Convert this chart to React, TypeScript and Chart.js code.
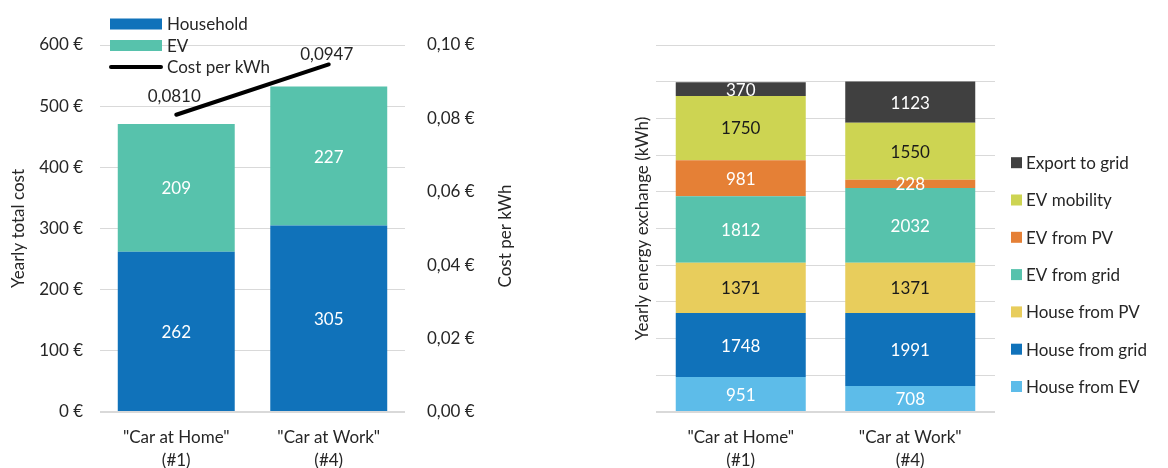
import React, { useEffect, useRef } from 'react';
import { Chart, registerables } from 'chart.js';
Chart.register(...registerables);

const FONT = 'Lato, "Noto Sans", sans-serif';

// ---- Left chart data ----
const costCategories = [['"Car at Home"', '(#1)'], ['"Car at Work"', '(#4)']];
const householdCost = [262, 305];
const evCost = [209, 227];
const costPerKwh = [0.081, 0.0947];
const costLegend = ['Household', 'EV', 'Cost per kWh'];

// ---- Right chart data ----
const energyCategories = [['"Car at Home"', '(#1)'], ['"Car at Work"', '(#4)']];
const houseFromEV = [951, 708];
const houseFromGrid = [1748, 1991];
const houseFromPV = [1371, 1371];
const evFromGrid = [1812, 2032];
const evFromPV = [981, 228];
const evMobility = [1750, 1550];
const exportToGrid = [370, 1123];
const energySeriesNames = ['House from EV', 'House from grid', 'House from PV', 'EV from grid', 'EV from PV', 'EV mobility', 'Export to grid'];

const C_HOUSEHOLD = '#1072BA';
const C_EV = '#57C2AC';
const energyColors = ['#5DBCE9', '#1072BA', '#E8CD5C', '#57C2AC', '#E58036', '#CDD452', '#404040'];
const energyLabelColors = ['#FFFFFF', '#FFFFFF', '#1A1A1A', '#FFFFFF', '#FFFFFF', '#1A1A1A', '#FFFFFF'];

const GRID = '#D9D9D9';
const TEXT = '#262626';

const barLabelsPlugin = {
  id: 'barLabels',
  afterDatasetsDraw(chart: any) {
    const ctx = chart.ctx;
    ctx.save();
    ctx.font = `17px ${FONT}`;
    ctx.textAlign = 'center';
    ctx.textBaseline = 'middle';
    chart.data.datasets.forEach((ds: any, i: number) => {
      const meta = chart.getDatasetMeta(i);
      if (meta.type === 'line') {
        meta.data.forEach((el: any, j: number) => {
          const v = ds.data[j];
          ctx.fillStyle = TEXT;
          ctx.fillText(v.toFixed(4).replace('.', ','), el.x - 2, el.y + ds.labelOffsets[j]);
        });
        return;
      }
      meta.data.forEach((el: any, j: number) => {
        const v = ds.data[j];
        const p = el.getProps(['x', 'y', 'base'], true);
        ctx.fillStyle = ds.labelColor;
        ctx.fillText(String(v), p.x, (p.y + p.base) / 2 + 1);
      });
    });
    ctx.restore();
  },
};

const leftExtrasPlugin = {
  id: 'leftExtras',
  afterDraw(chart: any) {
    const ctx = chart.ctx;
    ctx.save();
    ctx.font = `17px ${FONT}`;
    ctx.textBaseline = 'middle';
    ctx.textAlign = 'left';
    // legend
    const rows = [24, 45.5, 67];
    ctx.fillStyle = C_HOUSEHOLD;
    ctx.fillRect(110, rows[0] - 5.5, 52, 11);
    ctx.fillStyle = C_EV;
    ctx.fillRect(110, rows[1] - 5.5, 52, 11);
    ctx.strokeStyle = '#000';
    ctx.lineWidth = 4;
    ctx.lineCap = 'round';
    ctx.beginPath();
    ctx.moveTo(111, rows[2]);
    ctx.lineTo(161, rows[2]);
    ctx.stroke();
    ctx.fillStyle = TEXT;
    costLegend.forEach((t, i) => ctx.fillText(t, 167, rows[i] + 1));
    // right axis title (reads bottom-to-top)
    ctx.translate(506, 236);
    ctx.rotate(-Math.PI / 2);
    ctx.textAlign = 'center';
    ctx.fillText('Cost per kWh', 0, 0);
    ctx.restore();
  },
};

const rightLegendPlugin = {
  id: 'rightLegend',
  afterDraw(chart: any) {
    const ctx = chart.ctx;
    ctx.save();
    ctx.font = `17px ${FONT}`;
    ctx.textBaseline = 'middle';
    ctx.textAlign = 'left';
    const n = energySeriesNames.length;
    for (let k = 0; k < n; k++) {
      const idx = n - 1 - k;
      const y = 162.7 + k * 37.3;
      ctx.fillStyle = energyColors[idx];
      ctx.fillRect(451, y - 5.5, 11, 11);
      ctx.fillStyle = TEXT;
      ctx.fillText(energySeriesNames[idx], 466, y + 1);
    }
    ctx.restore();
  },
};

function LeftChart() {
  const ref = useRef<HTMLCanvasElement>(null);
  useEffect(() => {
    const chart = new Chart(ref.current as HTMLCanvasElement, {
      type: 'bar',
      data: {
        labels: costCategories as any,
        datasets: [
          {
            type: 'line' as any,
            label: 'Cost per kWh',
            data: costPerKwh,
            yAxisID: 'y1',
            borderColor: '#000',
            borderWidth: 4,
            borderCapStyle: 'round',
            pointRadius: 0,
            order: 0,
            labelOffsets: [-18.5, -9.5],
          } as any,
          {
            label: 'Household',
            data: householdCost,
            backgroundColor: C_HOUSEHOLD,
            yAxisID: 'y',
            order: 1,
            labelColor: '#FFFFFF',
          } as any,
          {
            label: 'EV',
            data: evCost,
            backgroundColor: C_EV,
            yAxisID: 'y',
            order: 1,
            labelColor: '#FFFFFF',
          } as any,
        ],
      },
      options: {
        animation: false,
        responsive: false,
        maintainAspectRatio: false,
        layout: { padding: { left: 0, right: 43, top: 45, bottom: 0 } },
        datasets: { bar: { categoryPercentage: 0.767, barPercentage: 1 } } as any,
        plugins: { legend: { display: false }, tooltip: { enabled: false } },
        scales: {
          x: {
            stacked: true,
            grid: { display: false, drawTicks: false },
            border: { display: false },
            ticks: { color: TEXT, font: { family: FONT, size: 17, lineHeight: 1.35 }, padding: 14, maxRotation: 0, autoSkip: false },
            afterFit: (s: any) => { s.height = 56; },
          },
          y: {
            stacked: true,
            position: 'left',
            min: 0,
            max: 600,
            ticks: { stepSize: 100, color: TEXT, font: { family: FONT, size: 17 }, padding: 17, callback: (v: any) => `${v} €` },
            grid: { color: GRID, drawTicks: false, lineWidth: (c: any) => (c.tick && c.tick.value === 0 ? 2 : 1) },
            border: { display: false },
            title: { display: true, text: 'Yearly total cost', color: TEXT, font: { family: FONT, size: 17 }, padding: { top: 8, bottom: 0 } },
            afterFit: (s: any) => { s.width = 100; },
          },
          y1: {
            position: 'right',
            min: 0,
            max: 0.1,
            ticks: { stepSize: 0.02, color: TEXT, font: { family: FONT, size: 17 }, padding: 22, callback: (v: any) => `${Number(v).toFixed(2).replace('.', ',')} €` },
            grid: { display: false, drawTicks: false },
            border: { display: false },
            afterFit: (s: any) => { s.width = 112; },
          },
        },
      } as any,
      plugins: [barLabelsPlugin, leftExtrasPlugin],
    });
    return () => chart.destroy();
  }, []);
  return <canvas ref={ref} width={560} height={468} style={{ position: 'absolute', left: 0, top: 0, width: 560, height: 468 }} />;
}

function RightChart() {
  const ref = useRef<HTMLCanvasElement>(null);
  useEffect(() => {
    const series = [houseFromEV, houseFromGrid, houseFromPV, evFromGrid, evFromPV, evMobility, exportToGrid];
    const chart = new Chart(ref.current as HTMLCanvasElement, {
      type: 'bar',
      data: {
        labels: energyCategories as any,
        datasets: series.map((d, i) => ({
          label: energySeriesNames[i],
          data: d,
          backgroundColor: energyColors[i],
          labelColor: energyLabelColors[i],
        })) as any,
      },
      options: {
        animation: false,
        responsive: false,
        maintainAspectRatio: false,
        layout: { padding: { left: 0, right: 173, top: 45, bottom: 0 } },
        datasets: { bar: { categoryPercentage: 0.767, barPercentage: 1 } } as any,
        plugins: { legend: { display: false }, tooltip: { enabled: false } },
        scales: {
          x: {
            stacked: true,
            grid: { display: false, drawTicks: false },
            border: { display: false },
            ticks: { color: TEXT, font: { family: FONT, size: 17, lineHeight: 1.35 }, padding: 14, maxRotation: 0, autoSkip: false },
            afterFit: (s: any) => { s.height = 56; },
          },
          y: {
            stacked: true,
            min: 0,
            max: 10000,
            ticks: { display: false, stepSize: 1000 },
            grid: { color: GRID, drawTicks: false, lineWidth: (c: any) => (c.tick && c.tick.value === 0 ? 2 : 1) },
            border: { display: false },
            title: { display: true, text: 'Yearly energy exchange (kWh)', color: TEXT, font: { family: FONT, size: 17 }, padding: { top: 72, bottom: 0 } },
            afterFit: (s: any) => { s.width = 96; },
          },
        },
      } as any,
      plugins: [barLabelsPlugin, rightLegendPlugin],
    });
    return () => chart.destroy();
  }, []);
  return <canvas ref={ref} width={608} height={468} style={{ position: 'absolute', left: 560, top: 0, width: 608, height: 468 }} />;
}

export default function App() {
  return (
    <div style={{ position: 'fixed', left: 0, top: 0, width: 1168, height: 468, background: '#fff', overflow: 'hidden' }}>
      <LeftChart />
      <RightChart />
    </div>
  );
}
